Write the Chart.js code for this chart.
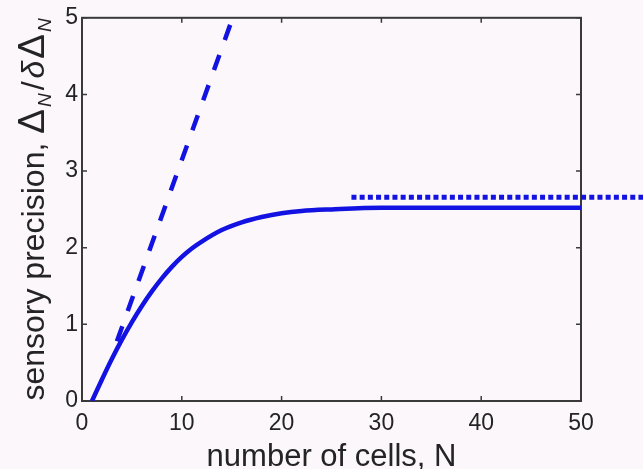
<!DOCTYPE html>
<html>
<head>
<meta charset="utf-8">
<title>Sensory precision vs number of cells</title>
<script src="https://cdn.jsdelivr.net/npm/chart.js@4/dist/chart.umd.min.js"></script>
<style>
  html, body { margin: 0; padding: 0; background: #fcf7fa; }
  canvas { display: block; }
</style>
</head>
<body>
<canvas id="chart" width="643" height="469"></canvas>
<script>
// Sensory precision as a function of the number of cells
const cellsN = [1, 2, 3, 4, 5, 6, 7, 8, 9, 10, 11, 12, 14, 16, 18, 20, 22, 25, 30, 40, 50];
const precision = [0, 0.28, 0.55, 0.8, 1.03, 1.24, 1.43, 1.6, 1.75, 1.88, 1.99, 2.08, 2.23, 2.33, 2.40, 2.45, 2.48, 2.50, 2.52, 2.52, 2.52];

// Small-N asymptote (linear growth)
const linearN = [3.5, 15.1];
const linearPrecision = [0.78, 5.0];

// Large-N limit
const limitN = [27, 56.5];
const limitPrecision = [2.66, 2.66];

// Axis ticks
const xTicks = [0, 10, 20, 30, 40, 50];
const yTicks = [0, 1, 2, 3, 4, 5];

const BLUE = '#1212e2';
const AXIS = '#3a3a3a';
const TEXT = '#242424';
const FONT = "'Liberation Sans', Arial, Helvetica, sans-serif";

const toPoints = (xs, ys) => xs.map((v, i) => ({ x: v, y: ys[i] }));

// Box around the plot with inward tick marks on all four sides
const framePlugin = {
  id: 'frame',
  beforeDatasetsDraw(chart) {
    const { ctx, chartArea: a, scales: { x, y } } = chart;
    ctx.save();
    ctx.strokeStyle = AXIS;
    ctx.lineWidth = 2;
    ctx.strokeRect(a.left, a.top, a.right - a.left, a.bottom - a.top);
    ctx.lineWidth = 1.5;
    const len = 5;
    ctx.beginPath();
    x.ticks.forEach(t => {
      const px = x.getPixelForValue(t.value);
      ctx.moveTo(px, a.bottom); ctx.lineTo(px, a.bottom - len);
      ctx.moveTo(px, a.top); ctx.lineTo(px, a.top + len);
    });
    y.ticks.forEach(t => {
      const py = y.getPixelForValue(t.value);
      ctx.moveTo(a.left, py); ctx.lineTo(a.left + len, py);
      ctx.moveTo(a.right, py); ctx.lineTo(a.right - len, py);
    });
    ctx.stroke();
    ctx.restore();
  }
};

// Vertical axis title with subscripts: sensory precision, Δ_N/δΔ_N
const yTitlePlugin = {
  id: 'yTitle',
  afterDraw(chart) {
    const { ctx, chartArea: a } = chart;
    const parts = [
      { t: 'sensory precision, ', f: `32px ${FONT}`, dy: 0 },
      { t: '\u0394', f: `37px ${FONT}`, dy: 0, gap: 2 },
      { t: 'N', f: `italic 19px ${FONT}`, dy: 7, gap: 3 },
      { t: '/', f: `32px ${FONT}`, dy: 0, gap: 3 },
      { t: '\u03B4', f: `italic 32px ${FONT}`, dy: 0, gap: 2 },
      { t: '\u0394', f: `37px ${FONT}`, dy: 0, gap: 2 },
      { t: 'N', f: `italic 19px ${FONT}`, dy: 7, gap: 0 }
    ];
    ctx.save();
    let total = 0;
    parts.forEach(p => { ctx.font = p.f; p.w = ctx.measureText(p.t).width; total += p.w + (p.gap || 0); });
    const cy = (a.top + a.bottom) / 2;
    ctx.translate(44, cy);
    ctx.rotate(-Math.PI / 2);
    ctx.fillStyle = TEXT;
    ctx.textBaseline = 'alphabetic';
    ctx.textAlign = 'left';
    let cx = -total / 2;
    parts.forEach(p => {
      ctx.font = p.f;
      ctx.fillText(p.t, cx, p.dy);
      cx += p.w + (p.gap || 0);
    });
    ctx.restore();
  }
};

new Chart(document.getElementById('chart'), {
  type: 'line',
  data: {
    datasets: [
      {
        data: toPoints(cellsN, precision),
        borderColor: BLUE,
        borderWidth: 4.5,
        pointRadius: 0,
        cubicInterpolationMode: 'monotone',
        fill: false
      },
      {
        data: toPoints(linearN, linearPrecision),
        borderColor: BLUE,
        borderWidth: 4.5,
        borderDash: [16, 16],
        borderCapStyle: 'butt',
        pointRadius: 0,
        fill: false
      },
      {
        data: toPoints(limitN, limitPrecision),
        borderColor: BLUE,
        borderWidth: 5,
        borderDash: [5, 3.2],
        borderCapStyle: 'butt',
        pointRadius: 0,
        fill: false,
        clip: false
      }
    ]
  },
  options: {
    responsive: false,
    devicePixelRatio: 1,
    animation: false,
    events: [],
    layout: { padding: { top: 17, right: 62, left: 0, bottom: 0 } },
    plugins: { legend: { display: false }, tooltip: { enabled: false } },
    scales: {
      x: {
        type: 'linear',
        min: xTicks[0],
        max: xTicks[xTicks.length - 1],
        afterFit: s => { s.height = 68; },
        afterBuildTicks: s => { s.ticks = xTicks.map(v => ({ value: v })); },
        grid: { display: false, drawTicks: false },
        border: { display: false },
        ticks: { padding: 9, color: TEXT, font: { family: FONT, size: 23 }, maxRotation: 0 },
        title: {
          display: true,
          text: 'number of cells, N',
          color: TEXT,
          font: { family: FONT, size: 31, lineHeight: 1 },
          padding: { top: 0, bottom: -4 }
        }
      },
      y: {
        type: 'linear',
        min: yTicks[0],
        max: yTicks[yTicks.length - 1],
        afterFit: s => { s.width = 82; },
        afterBuildTicks: s => { s.ticks = yTicks.map(v => ({ value: v })); },
        grid: { display: false, drawTicks: false },
        border: { display: false },
        ticks: { padding: 4, color: TEXT, font: { family: FONT, size: 23 } }
      }
    }
  },
  plugins: [framePlugin, yTitlePlugin]
});
</script>
</body>
</html>
